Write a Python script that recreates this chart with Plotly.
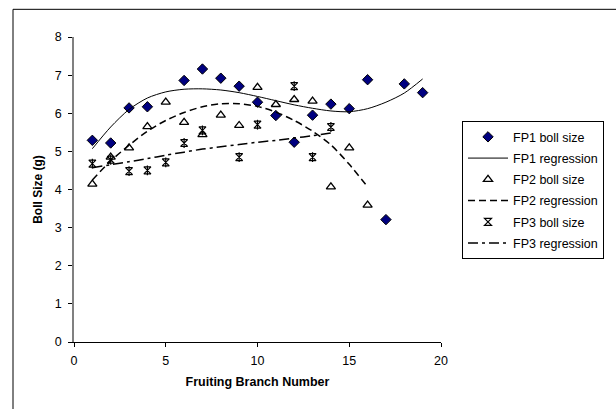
import plotly.graph_objects as go

# ---- data ----
fp1_x = [1, 2, 3, 4, 6, 7, 8, 9, 10, 11, 12, 13, 14, 15, 16, 17, 18, 19]
fp1_y = [5.29, 5.22, 6.14, 6.17, 6.86, 7.16, 6.92, 6.71, 6.29, 5.94, 5.24, 5.95, 6.24, 6.12, 6.88, 3.21, 6.77, 6.54]

fp2_x = [1, 2, 3, 4, 5, 6, 7, 8, 9, 10, 11, 12, 13, 14, 15, 16]
fp2_y = [4.14, 4.85, 5.09, 5.65, 6.29, 5.76, 5.44, 5.95, 5.68, 6.68, 6.23, 6.36, 6.32, 4.07, 5.09, 3.59]

fp3_x = [1, 2, 3, 4, 5, 6, 7, 9, 10, 12, 13, 14]
fp3_y = [4.68, 4.78, 4.48, 4.50, 4.71, 5.22, 5.55, 4.85, 5.70, 6.71, 4.85, 5.64]

reg1_x = list(range(1, 20))
reg1_y = [5.07, 5.64, 6.10, 6.40, 6.56, 6.63, 6.64, 6.61, 6.54, 6.44, 6.33, 6.22, 6.13, 6.06, 6.04, 6.12, 6.29, 6.53, 6.90]

reg2_x = list(range(1, 17))
reg2_y = [4.25, 4.75, 5.16, 5.53, 5.81, 6.02, 6.17, 6.25, 6.25, 6.18, 6.03, 5.81, 5.53, 5.17, 4.66, 4.07]

reg3_x = list(range(1, 15))
reg3_y = [4.57, 4.65, 4.73, 4.81, 4.90, 4.98, 5.06, 5.12, 5.18, 5.24, 5.29, 5.35, 5.41, 5.48]

x_ticks = [0, 5, 10, 15, 20]
y_ticks = [0, 1, 2, 3, 4, 5, 6, 7, 8]

FONT = "Liberation Sans, Arial, sans-serif"

fig = go.Figure()

fig.add_trace(go.Scatter(x=fp1_x, y=fp1_y, mode="markers", name="FP1 boll size",
                         legendgroup="g1",
                         marker=dict(symbol="diamond", size=8, color="#000080",
                                     line=dict(color="black", width=1))))
fig.add_trace(go.Scatter(x=reg1_x, y=reg1_y, mode="lines", name="FP1 regression",
                         legendgroup="g2",
                         line=dict(color="black", width=1, shape="spline", smoothing=0.8)))
fig.add_trace(go.Scatter(x=fp2_x, y=fp2_y, mode="markers", name="FP2 boll size",
                         legendgroup="g3",
                         marker=dict(symbol="triangle-up", size=8, color="white",
                                     line=dict(color="black", width=1.3))))
fig.add_trace(go.Scatter(x=reg2_x, y=reg2_y, mode="lines", name="FP2 regression",
                         legendgroup="g4",
                         line=dict(color="black", width=1.5, dash="7px,4px", shape="spline", smoothing=0.8)))
fig.add_trace(go.Scatter(x=fp3_x, y=fp3_y, mode="markers", name="FP3 boll size",
                         legendgroup="g5",
                         marker=dict(symbol="hourglass-open", size=7, color="black",
                                     line=dict(color="black", width=1.2))))
fig.add_trace(go.Scatter(x=fp3_x, y=fp3_y, mode="markers", showlegend=False,
                         legendgroup="g5",
                         marker=dict(symbol="line-ns-open", size=7, color="black",
                                     line=dict(color="black", width=1.2))))
fig.add_trace(go.Scatter(x=reg3_x, y=reg3_y, mode="lines", name="FP3 regression",
                         legendgroup="g6",
                         line=dict(color="black", width=1.5, dash="10px,4px,3px,4px", shape="spline", smoothing=0.8)))

# chart frame (partly clipped at right and bottom, as in the reference)
pl, pr, pt, pb = 74, 441, 36.7, 342
pw, ph = pr - pl, pb - pt
def px(v):
    return (v - pl) / pw
def py(v):
    return (pb - v) / ph

fig.add_shape(type="line", xref="paper", yref="paper", x0=px(13), x1=px(13), y0=py(9), y1=py(420),
              line=dict(color="black", width=1))
fig.add_shape(type="line", xref="paper", yref="paper", x0=px(13), x1=px(630), y0=py(9), y1=py(9),
              line=dict(color="black", width=1))

fig.update_layout(
    width=616, height=409,
    margin=dict(l=pl, r=616 - pr, t=pt, b=409 - pb),
    paper_bgcolor="white", plot_bgcolor="white",
    font=dict(family=FONT, size=12, color="black"),
    showlegend=True,
    legend=dict(x=px(462), y=py(121), xanchor="left", yanchor="top",
                bordercolor="black", borderwidth=1, bgcolor="white",
                font=dict(family=FONT, size=12.5, color="black"),
                traceorder="grouped", tracegroupgap=2, itemwidth=40),
    xaxis=dict(range=[0, 20], tickvals=x_ticks, ticks="outside", ticklen=4, tickcolor="black",
               showline=True, linecolor="black", linewidth=1, showgrid=False, zeroline=False,
               tickfont=dict(family=FONT, size=12.5), ticklabelstandoff=3,
               title=dict(text="<b>Fruiting Branch Number</b>", font=dict(family=FONT, size=12.5), standoff=10)),
    yaxis=dict(range=[0, 8], tickvals=y_ticks, ticks="outside", ticklen=4, tickcolor="black",
               showline=True, linecolor="#808080", linewidth=1.5, showgrid=False, zeroline=False,
               tickfont=dict(family=FONT, size=12.5), ticklabelstandoff=4,
               title=dict(text="<b>Boll Size (g)</b>", font=dict(family=FONT, size=12), standoff=10)),
    xaxis2=dict(range=[0, 20], tickvals=x_ticks, ticks="inside", ticklen=4, tickcolor="black",
                overlaying="x", anchor="y", side="bottom", showticklabels=False,
                showline=False, showgrid=False, zeroline=False),
    yaxis2=dict(range=[0, 8], tickvals=y_ticks, ticks="inside", ticklen=4, tickcolor="black",
                overlaying="y", anchor="x", side="left", showticklabels=False,
                showline=False, showgrid=False, zeroline=False),
)

fig.write_html("out.html")
